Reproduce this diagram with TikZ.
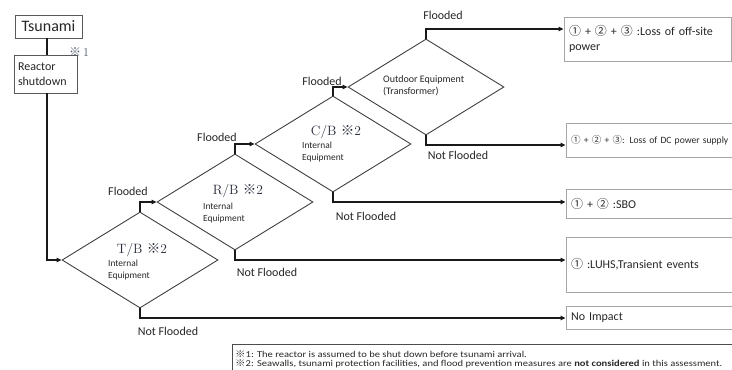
\documentclass[tikz,border=0pt]{standalone}
\usepackage{fontspec}
\setsansfont{Carlito}
\newfontfamily\cjkfont{Noto Sans CJK JP}
\usetikzlibrary{arrows.meta,shapes.geometric}
\newcommand{\komeMark}{{\cjkfont ※}}
\newcommand{\cOne}{{\cjkfont ①}}
\newcommand{\cTwo}{{\cjkfont ②}}
\newcommand{\cThree}{{\cjkfont ③}}
\definecolor{txt}{HTML}{262626}
\definecolor{ttlc}{HTML}{262A38}
\definecolor{notec}{HTML}{4A5468}
\definecolor{boxc}{HTML}{A6A6A6}
\definecolor{startc}{HTML}{595959}
\begin{document}
\begin{tikzpicture}[x=1pt,y=-1pt,
  conn/.style={line width=1.5pt, draw=black!90, -{Triangle[length=5pt,width=4.5pt]}},
  lnk/.style={line width=1.5pt, draw=black!90},
  dia/.style={diamond, draw=black!75, line width=0.9pt, minimum width=156pt, minimum height=96pt, inner sep=0pt},
  res/.style={draw=boxc, line width=0.9pt, inner xsep=5pt, inner ysep=0pt, align=left, font=\sffamily\fontsize{12}{15}\selectfont, text=txt},
  startbox/.style={draw=startc, line width=0.9pt, inner sep=0pt, font=\sffamily, text=txt},
  lbl/.style={font=\sffamily\fontsize{12}{14}\selectfont, text=txt, inner sep=0pt},
  ttl/.style={font=\rmfamily\fontsize{13.5}{15}\selectfont, text=ttlc, inner sep=0pt},
  small/.style={font=\sffamily\fontsize{9.4}{12}\selectfont, text=txt, inner sep=0pt, align=left, anchor=west},
  foot/.style={font=\sffamily\fontsize{9}{10}\selectfont, text=txt, inner sep=0pt, anchor=base west}
]
\useasboundingbox (0,0) rectangle (732,370);

% start boxes
\node[startbox, minimum width=67pt, minimum height=23pt, font=\sffamily\fontsize{16}{18}\selectfont] (ts) at (48.5,26.5) {Tsunami};
\node[startbox, minimum width=63pt, minimum height=38pt, text width=55pt, align=left, inner xsep=4pt, font=\sffamily\fontsize{12}{15}\selectfont] (rs) at (45.5,74) {Reactor\\shutdown};
\node[font=\rmfamily\fontsize{12}{14}\selectfont, text=notec, inner sep=0pt] (n1) at (79,52) {\komeMark\,1};

% diamonds
\node[dia] (tb) at (140,260) {};
\node[dia] (rb) at (235,202) {};
\node[dia] (cb) at (333,144) {};
\node[dia] (od) at (426,87) {};

\node[ttl] (tbt) at (142,250) {T/B \komeMark2};
\node[small] (tbi) at (108,270) {Internal\\Equipment};
\node[ttl] (rbt) at (238,191) {R/B \komeMark2};
\node[small] (rbi) at (203,212.5) {Internal\\Equipment};
\node[ttl] (cbt) at (336,132) {C/B \komeMark2};
\node[small] (cbi) at (302,151.5) {Internal\\Equipment};
\node[small, font=\sffamily\fontsize{10}{12}\selectfont] (odt) at (383,86) {Outdoor Equipment\\(Transformer)};

% result boxes
\node[res, minimum width=167pt, text width=157pt, minimum height=44pt] (b1) at (647.5,39) {\cOne{} + \cTwo{} + \cThree{} :Loss of off-site\\power};
\node[res, minimum width=174pt, text width=164pt, minimum height=34pt, font=\sffamily\fontsize{9.6}{12}\selectfont] (b2) at (653,140.5) {\cOne{} + \cTwo{} + \cThree{}: Loss of DC power supply};
\node[res, minimum width=174pt, text width=164pt, minimum height=29pt] (b3) at (653,203.5) {\cOne{} + \cTwo{} :SBO};
\node[res, minimum width=174pt, text width=164pt, minimum height=55pt] (b4) at (653,264.5) {\cOne{} :LUHS,Transient events};
\node[res, minimum width=174pt, text width=164pt, minimum height=23pt] (b5) at (653,317.5) {No Impact};

% arrow levels
\coordinate (y1) at (0,29);
\coordinate (y2) at (0,145);
\coordinate (y3) at (0,202);
\coordinate (y4) at (0,260);
\coordinate (y5) at (0,318);

% connectors
\draw[lnk] ([xshift=-1.5pt]ts.south) -- ([xshift=1.5pt]rs.north);
\draw[conn] ([xshift=1.5pt]rs.south) |- (tb.west);
\draw[conn] (tb.north) |- (rb.west);
\draw[conn] (rb.north) |- (cb.west);
\draw[conn] (cb.north) |- (od.west);
\draw[conn] (od.north) |- (b1.west |- y1);
\draw[conn] (od.south) |- (b2.west |- y2);
\draw[conn] (cb.south) |- (b3.west |- y3);
\draw[conn] (rb.south) |- (b4.west |- y4);
\draw[conn] (tb.south) |- (b5.west |- y5);

% labels
\node[lbl] (f1) at (128,191) {Flooded};
\node[lbl] (f2) at (217,137) {Flooded};
\node[lbl] (f3) at (322,81) {Flooded};
\node[lbl] (f4) at (443,15) {Flooded};
\node[lbl] (nf1) at (168,331) {Not Flooded};
\node[lbl] (nf2) at (267,272) {Not Flooded};
\node[lbl] (nf3) at (366,216) {Not Flooded};
\node[lbl] (nf4) at (458,155) {Not Flooded};

% footnote
\coordinate (fnA) at (232,372);
\coordinate (fnB) at (740,344);
\draw[draw=black!70, line width=0.8pt] (fnA) |- (fnB);
\node[foot] (fn1) at (235,357) {\scalebox{1.17}[1]{\komeMark1: The reactor is assumed to be shut down before tsunami arrival.}};
\node[foot] (fn2) at (235,366.5) {\scalebox{1.17}[1]{\komeMark2: Seawalls, tsunami protection facilities, and flood prevention measures are \textbf{not considered} in this assessment.}};
\end{tikzpicture}
\end{document}
